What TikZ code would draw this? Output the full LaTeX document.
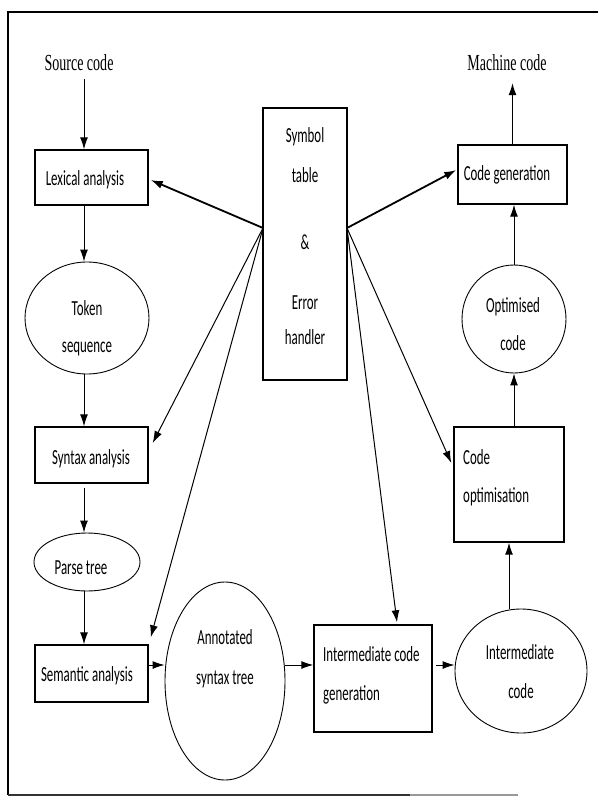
\documentclass[tikz,border=0pt]{standalone}
\usepackage{fontspec}
\setmainfont{Carlito}
\newfontfamily\titlefont{Liberation Serif}
\usetikzlibrary{arrows.meta,shapes.geometric,calc}
\newcommand{\sq}[1]{\scalebox{0.6}[1]{#1}}
\newcommand{\sqt}[1]{\scalebox{0.61}[1]{#1}}
\begin{document}
\begin{tikzpicture}[x=1pt,y=-1pt,
  boxs/.style={draw,rectangle,line width=1.4pt,inner sep=0pt},
  ells/.style={draw,ellipse,line width=0.9pt,inner sep=0pt},
  lbl/.style={inner sep=0pt,text height=15pt,text depth=1pt,font=\fontsize{21.5}{21.5}\selectfont},
  ttl/.style={inner sep=0pt,text height=15pt,text depth=1pt,font=\titlefont\fontsize{23}{23}\selectfont},
  arr/.style={-{Latex[length=12pt,width=8pt]},line width=1pt},
  thickarr/.style={arr,line width=1.8pt}]
\useasboundingbox (0,0) rectangle (598,803);
% frame
\draw[line width=1.2pt] (598,12) -- (8,12) -- (8,795);
\draw[line width=1.8pt,black!80] (8,795) -- (410,795);
\draw[line width=1.5pt,black!40] (410,795) -- (518,795);
% shapes
\node[boxs,minimum width=113pt,minimum height=55pt] (lex) at (91.5,177.5) {};
\node[boxs,minimum width=113pt,minimum height=56pt] (syn) at (91.5,455) {};
\node[boxs,minimum width=113pt,minimum height=57pt] (sem) at (91.5,673.5) {};
\node[boxs,minimum width=84pt,minimum height=272pt] (sym) at (305,244) {};
\node[boxs,minimum width=109pt,minimum height=59pt] (cg) at (512.5,174.5) {};
\node[boxs,minimum width=110pt,minimum height=115pt] (co) at (509,484.5) {};
\node[boxs,minimum width=118pt,minimum height=107pt] (icg) at (373,678.5) {};
\node[ells,minimum width=124pt,minimum height=112pt] (tok) at (87,318) {};
\node[ells,minimum width=106pt,minimum height=58pt] (pt) at (87,562) {};
\node[ells,minimum width=120pt,minimum height=198pt] (ann) at (225,681) {};
\node[ells,minimum width=132pt,minimum height=124pt] (ic) at (521,671) {};
\node[ells,minimum width=104pt,minimum height=108pt] (oc) at (514,319) {};
% labels
\node[ttl] (src) at (79,63) {\sqt{Source code}};
\node[ttl] (mc) at (507,63) {\sqt{Machine code}};
\node[lbl] (lexT) at (85,178) {\sq{Lexical analysis}};
\node[lbl] (tokT1) at (87,308) {\sq{Token}};
\node[lbl] (tokT2) at (87,345) {\sq{sequence}};
\node[lbl] (synT) at (91,457) {\sq{Syntax analysis}};
\node[lbl] (ptT) at (81,567) {\sq{Parse tree}};
\node[lbl] (semT) at (87,674) {\sq{Semantic analysis}};
\node[lbl] (annT1) at (225,637) {\sq{Annotated}};
\node[lbl] (annT2) at (225,677) {\sq{syntax tree}};
\node[lbl,anchor=west] (icgT1) at (323,654) {\sq{Intermediate code}};
\node[lbl,anchor=west] (icgT2) at (323,693) {\sq{generation}};
\node[lbl] (icT1) at (520,652) {\sq{Intermediate}};
\node[lbl] (icT2) at (521,691) {\sq{code}};
\node[lbl,anchor=west] (coT1) at (463,457) {\sq{Code}};
\node[lbl,anchor=west] (coT2) at (463,495) {\sq{optimisation}};
\node[lbl] (ocT1) at (513,305) {\sq{Optimised}};
\node[lbl] (ocT2) at (513,343) {\sq{code}};
\node[lbl] (cgT) at (507,173) {\sq{Code generation}};
\node[lbl] (symT1) at (305,135) {\sq{Symbol}};
\node[lbl] (symT2) at (305,175) {\sq{table}};
\node[lbl] (symT3) at (305,242) {\sq{\&}};
\node[lbl] (symT4) at (305,302) {\sq{Error}};
\node[lbl] (symT5) at (305,337) {\sq{handler}};
% helper coordinates
\coordinate (symL) at (263,228);
\coordinate (symR) at (347,228);
\coordinate (ax) at (84,0);
\coordinate (ay) at (0,665);
% symbol table connectors
\draw[thickarr] (symL) -- ($(lex.east)+(2,2.5)$);
\draw[arr] (symL) -- ($(syn.east)+(4,-12)$);
\draw[arr] (symL) -- ($(sem.north east)+(2,-7)$);
\draw[thickarr] (symR) -- ($(cg.west)+(-1,-4.5)$);
\draw[arr] (symR) -- ($(co.west)+(-2,-21.5)$);
\draw[arr] (symR) -- ($(icg.north)+(24,-2)$);
% left column
\draw[arr,shorten <=8pt] (src.south -| ax) -- (lex.north -| ax);
\draw[arr] (lex.south -| ax) -- (tok.north -| ax);
\draw[arr] (tok.south -| ax) -- (syn.north -| ax);
\draw[arr,shorten <=4pt] (syn.south -| ax) -- (pt.north -| ax);
\draw[arr] (pt.south -| ax) -- (sem.north -| ax);
% bottom row
\draw[arr] (sem.east |- ay) -- (ann.west |- ay);
\draw[arr] (ann.east |- ay) -- (icg.west |- ay);
\draw[arr,shorten <=3pt] (icg.east |- ay) -- (ic.west |- ay);
% right column
\draw[arr] (ic.north -| co.south) -- (co.south);
\draw[arr] (co.north -| oc.south) -- (oc.south);
\draw[arr] (oc.north) -- (oc.north |- cg.south);
\draw[arr,shorten >=12pt] (cg.north) -- (cg.north |- mc.south);
\end{tikzpicture}
\end{document}
